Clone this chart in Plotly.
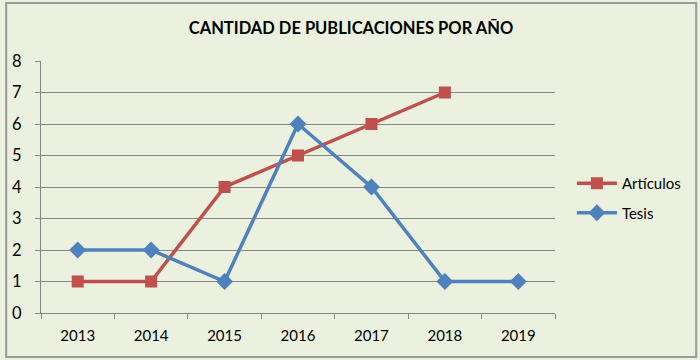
import plotly.graph_objects as go

years = ["2013", "2014", "2015", "2016", "2017", "2018", "2019"]
articulos_years = ["2013", "2014", "2015", "2016", "2017", "2018"]
articulos = [1, 1, 4, 5, 6, 7]
tesis = [2, 2, 1, 6, 4, 1, 1]

red = "#c0504d"
blue = "#4f81bd"
font = "Lato, Open Sans, sans-serif"

fig = go.Figure()
fig.add_trace(go.Scatter(x=articulos_years, y=articulos, name="Artículos",
                         mode="lines+markers", legendgroup="a",
                         line=dict(color=red, width=3.5),
                         marker=dict(symbol="square", size=12, color=red)))
fig.add_trace(go.Scatter(x=years, y=tesis, name="Tesis",
                         mode="lines+markers", legendgroup="b",
                         line=dict(color=blue, width=3.5),
                         marker=dict(symbol="diamond", size=13, color=blue)))

L, R, T, B = 38, 145, 61, 47
W, H = 700, 360
pw, ph = W - L - R, H - T - B

fig.update_layout(
    width=W, height=H,
    margin=dict(l=L, r=R, t=T, b=B),
    paper_bgcolor="#ebf1de",
    plot_bgcolor="#ebf1de",
    font=dict(family=font, size=15, color="#000000"),
    title=dict(text="<b>CANTIDAD DE PUBLICACIONES POR AÑO</b>",
               x=351 / W, xanchor="center", y=1 - 28 / H, yanchor="middle",
               font=dict(size=16.5, family=font)),
    showlegend=True,
    legend=dict(x=(572 - L) / pw, xanchor="left", y=(313 - 198) / ph, yanchor="middle",
                bgcolor="rgba(0,0,0,0)", font=dict(size=15),
                tracegroupgap=7, itemwidth=40),
    xaxis=dict(type="category", categoryorder="array", categoryarray=years,
               range=[-0.5, 6.5], showgrid=False, showline=True,
               linecolor="#868686", linewidth=1, ticks="outside",
               tickson="boundaries", ticklen=5, tickcolor="#868686",
               tickfont=dict(size=15), ticklabelstandoff=9),
    yaxis=dict(range=[0, 8], dtick=1, showgrid=True, gridcolor="#868686",
               gridwidth=1, showline=True, linecolor="#868686", linewidth=1,
               ticks="outside", ticklen=5, tickcolor="#868686",
               zeroline=False, tickfont=dict(size=16.5), ticklabelstandoff=10),
    shapes=[dict(type="rect", xref="paper", yref="paper",
                 x0=(3 - L) / pw, x1=(697 - L) / pw,
                 y0=(313 - 357) / ph, y1=(313 - 3) / ph,
                 line=dict(color="#9a9a9a", width=2), fillcolor="rgba(0,0,0,0)",
                 layer="below")],
)

fig.write_html("out.html", config={"displayModeBar": False},
               post_script="document.body.style.margin='0';document.body.style.background='#ebf1de';")
